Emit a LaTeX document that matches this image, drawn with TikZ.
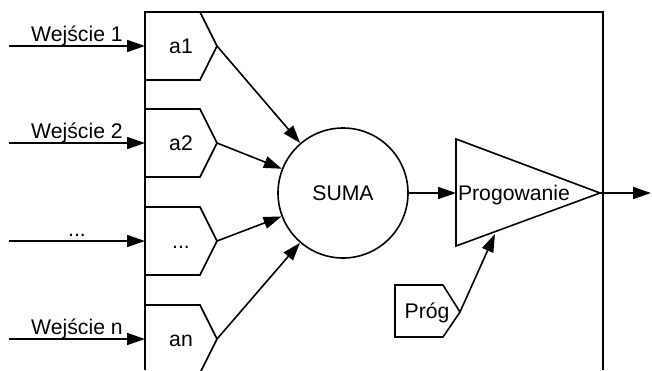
\documentclass[tikz,border=0pt]{standalone}
\usepackage{fontspec}
\setmainfont{Liberation Sans}
\usetikzlibrary{arrows.meta}
\begin{document}
\begin{tikzpicture}[x=0.5pt,y=-0.5pt,line width=0.8pt,
        arr/.style={-{Triangle[length=9pt,width=6pt]}},
        txt/.style={font=\fontsize{10.6}{12}\selectfont,inner sep=0pt}]

    \useasboundingbox (0,0) rectangle (652,370); %ramka
    \draw[line width=0.9pt] (145,370) -- (145,12) -- (603,12) -- (603,370); %neuron

    \node[draw,circle,minimum size=65pt,txt] (S) at (343,193) {SUMA}; %sumator

    \foreach \n/\t/\w/\lab in {1/12/a1/Wejście 1,2/109/a2/Wejście 2,3/207/{...}/{...},4/305/an/Wejście n}{
        \coordinate (P\n) at (217,\t+34); %czubek wagi
        \coordinate (E\n) at (145,\t+34); %wejscie wagi
        \coordinate (I\n) at (9,\t+34);   %poczatek wejscia
        \draw (145,\t) -- (200,\t) -- (P\n) -- (200,\t+68) -- (145,\t+68);
        \node[txt,anchor=base] (W\n) at (181,\t+41) {\w};
        \draw[arr] (I\n) -- (E\n) node[txt,midway,anchor=base,yshift=2.5pt] (L\n) {\lab};
        \draw[arr] (P\n) -- (S);
    }

    \coordinate (T1) at (456,139); %trojkat
    \coordinate (T2) at (456,246);
    \coordinate (T3) at (600,193);
    \coordinate (T0) at (456,193);
    \coordinate (T4) at (495,234);
    \draw (T1) -- (T3) -- (T2) -- cycle;
    \node[txt,anchor=base] (Pr) at (514,200) {Progowanie};
    \draw[arr] (S) -- (T0);
    \coordinate (O) at (651,193); %wyjscie
    \draw[arr] (T3) -- (O);

    \coordinate (G) at (460,312); %prog
    \draw (395,285) -- (443,285) -- (G) -- (443,337) -- (395,337) -- cycle;
    \node[txt,anchor=base] (Pg) at (427,318) {Próg};
    \draw[arr] (G) -- (T4);

\end{tikzpicture}
\end{document}
